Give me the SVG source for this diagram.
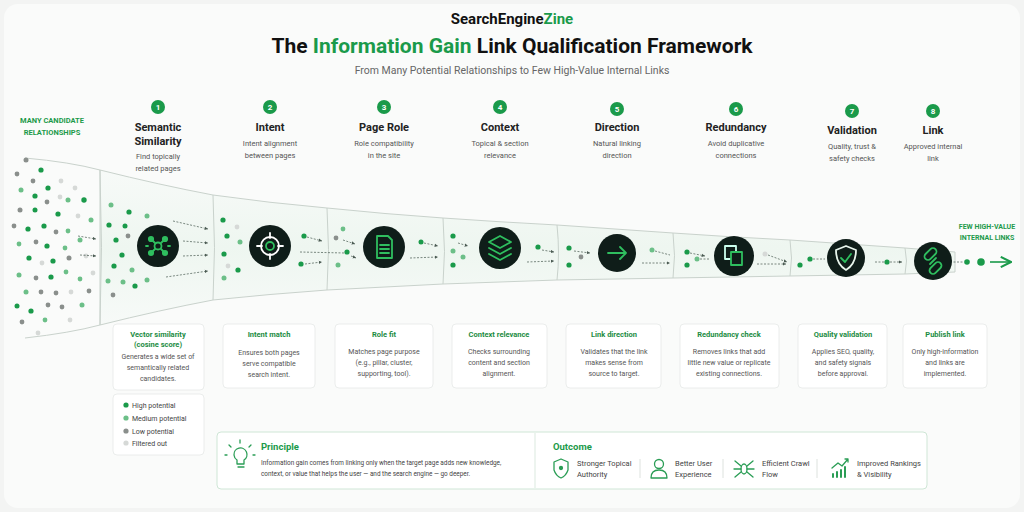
<svg xmlns="http://www.w3.org/2000/svg" width="1024" height="512" viewBox="0 0 1024 512">
<defs>
<style>
text{font-family:Roboto,"Liberation Sans",sans-serif}
.num{fill:#fff;font-size:8px;font-weight:700;text-anchor:middle}
.st{fill:#222;font-size:11px;font-weight:700;text-anchor:middle}
.sd{fill:#555;font-size:7.5px;text-anchor:middle}
.ct{fill:#1c8c43;font-size:7.5px;font-weight:700;text-anchor:middle}
.cd{fill:#555;font-size:7px;text-anchor:middle}
.card{fill:#fff;stroke:#e6e9e7;stroke-width:0.8}
.ic{fill:#0f1d19}
.ig{fill:none;stroke:#2fbf5f;stroke-width:1.8;stroke-linecap:round;stroke-linejoin:round}
.hi{fill:#1a9a4a}.me{fill:#6cbf88}.lo{fill:#8a8f8c}.fo{fill:#d6d9d7}
.dash{stroke:#5a6b62;stroke-width:0.8;stroke-dasharray:2 1.5;fill:none}
.div{stroke:#c9d2cc;stroke-width:1;fill:none}
.og{fill:none;stroke:#2a9d55;stroke-width:1.3;stroke-linejoin:round;stroke-linecap:round}
.ot{fill:#444;font-size:7.5px}
.lg{fill:#444;font-size:7px}
.pt{fill:#444;font-size:6.4px}
</style>
<marker id="ah" viewBox="0 0 6 6" refX="5" refY="3" markerWidth="5" markerHeight="5" orient="auto"><path d="M0,0.5 L5,3 L0,5.5 Z" fill="#4a5a52"/></marker>
<marker id="ahg" viewBox="0 0 10 10" refX="9" refY="5" markerWidth="8" markerHeight="8" orient="auto"><path d="M1,1 L9,5 L1,9" fill="none" stroke="#1a9a4a" stroke-width="1.6"/></marker>
<linearGradient id="fg" x1="0" y1="0" x2="0" y2="1"><stop offset="0" stop-color="#f7faf8"/><stop offset="0.5" stop-color="#eef6f0"/><stop offset="1" stop-color="#f7faf8"/></linearGradient>
</defs>
<rect width="1024" height="512" fill="#f3f4f3"/>
<rect x="4" y="4" width="1016" height="504" rx="14" fill="#fafbfa"/>

<g id="header">
<text x="512" y="24" text-anchor="middle" font-size="15" font-weight="700" fill="#111">SearchEngine<tspan fill="#1a9a4a">Zine</tspan></text>
<text x="512" y="53" text-anchor="middle" font-size="21" font-weight="700" fill="#111">The <tspan fill="#1a9a4a">Information Gain</tspan> Link Qualification Framework</text>
<text x="512" y="74" text-anchor="middle" font-size="10.5" fill="#666">From Many Potential Relationships to Few High-Value Internal Links</text>
</g>

<g id="funnel">
<path d="M100,170 Q160,185 213,195 Q270,203 327,208 Q385,214 443,218 Q500,222 557,225 Q615,229 673,233 Q730,237 790,240 Q848,244 905,248 L955,252 L955,272 L905,274 Q848,275 790,276 Q730,277 673,278 Q615,279 557,280 Q500,282 443,284 Q385,287 327,290 Q270,294 213,300 Q160,310 100,325 Z" fill="url(#fg)" stroke="#c9d2cc" stroke-width="1"/>
<path d="M25,158 Q70,162 100,170" class="div"/>
<path d="M25,338 Q70,333 100,325" class="div"/>
<path d="M100,170 Q103,248 100,325" class="div"/>
<path d="M213,195 Q216,248 213,300" class="div"/>
<path d="M327,208 Q330,250 327,290" class="div"/>
<path d="M443,218 Q446,252 443,284" class="div"/>
<path d="M557,225 Q560,254 557,280" class="div"/>
<path d="M673,233 Q676,256 673,278" class="div"/>
<path d="M790,240 Q793,258 790,276" class="div"/>
<path d="M905,248 Q908,261 905,274" class="div"/>
</g>

<g id="candidates">
<text x="52" y="123" text-anchor="middle" font-size="7.5" font-weight="700" fill="#1c9a4a">MANY CANDIDATE</text>
<text x="52" y="135" text-anchor="middle" font-size="7.5" font-weight="700" fill="#1c9a4a">RELATIONSHIPS</text>
<g>
<circle cx="26" cy="160" r="2.5" class="lo"/><circle cx="41" cy="170" r="2.6" class="hi"/><circle cx="17" cy="174" r="2.4" class="lo"/>
<circle cx="33" cy="181" r="2.4" class="lo"/><circle cx="61" cy="181" r="2.4" class="fo"/><circle cx="48" cy="188" r="2.6" class="hi"/>
<circle cx="75" cy="188" r="2.4" class="fo"/><circle cx="21" cy="190" r="2.5" class="me"/><circle cx="35" cy="196" r="2.6" class="hi"/>
<circle cx="60" cy="197" r="2.4" class="fo"/><circle cx="68" cy="200" r="2.5" class="me"/><circle cx="84" cy="200" r="2.7" class="hi"/>
<circle cx="47" cy="202" r="2.4" class="lo"/><circle cx="20" cy="210" r="2.5" class="lo"/>
<circle cx="35" cy="210" r="2.5" class="hi"/><circle cx="58" cy="214" r="2.6" class="hi"/><circle cx="78" cy="216" r="2.4" class="fo"/>
<circle cx="91" cy="220" r="2.5" class="me"/><circle cx="14" cy="226" r="2.4" class="lo"/><circle cx="28" cy="229" r="2.6" class="hi"/>
<circle cx="44" cy="226" r="2.6" class="hi"/><circle cx="56" cy="232" r="2.4" class="lo"/><circle cx="68" cy="231" r="2.4" class="me"/>
<circle cx="80" cy="240" r="2.5" class="me"/><circle cx="19" cy="244" r="2.4" class="me"/><circle cx="36" cy="242" r="2.4" class="lo"/>
<circle cx="47" cy="246" r="2.6" class="hi"/><circle cx="65" cy="248" r="2.4" class="me"/><circle cx="29" cy="258" r="2.6" class="hi"/>
<circle cx="42" cy="263" r="2.4" class="fo"/><circle cx="53" cy="261" r="2.6" class="hi"/><circle cx="69" cy="258" r="2.5" class="lo"/>
<circle cx="86" cy="256" r="2.4" class="fo"/><circle cx="19" cy="275" r="2.5" class="me"/><circle cx="36" cy="278" r="2.4" class="lo"/>
<circle cx="51" cy="277" r="2.6" class="hi"/><circle cx="66" cy="272" r="2.4" class="me"/><circle cx="80" cy="279" r="2.4" class="me"/>
<circle cx="93" cy="273" r="2.4" class="fo"/><circle cx="26" cy="292" r="2.5" class="me"/><circle cx="41" cy="292" r="2.4" class="lo"/>
<circle cx="56" cy="293" r="2.4" class="lo"/><circle cx="71" cy="292" r="2.4" class="fo"/><circle cx="89" cy="291" r="2.4" class="lo"/>
<circle cx="17" cy="306" r="2.5" class="hi"/><circle cx="31" cy="311" r="2.6" class="hi"/><circle cx="48" cy="305" r="2.4" class="lo"/>
<circle cx="62" cy="307" r="2.4" class="lo"/><circle cx="82" cy="305" r="2.5" class="me"/><circle cx="22" cy="322" r="2.4" class="lo"/>
<circle cx="45" cy="320" r="2.4" class="me"/><circle cx="70" cy="320" r="2.4" class="fo"/><circle cx="38" cy="333" r="2.4" class="fo"/>
</g>
</g>

<g id="inner-dots">
<circle cx="111" cy="205" r="2.5" class="me"/><circle cx="129" cy="212" r="2.6" class="hi"/><circle cx="147" cy="216" r="2.5" class="me"/>
<circle cx="109" cy="225" r="2.6" class="hi"/><circle cx="125" cy="226" r="2.5" class="hi"/><circle cx="128" cy="236" r="2.4" class="lo"/>
<circle cx="116" cy="240" r="2.6" class="hi"/><circle cx="122" cy="255" r="2.6" class="hi"/><circle cx="114" cy="266" r="2.6" class="hi"/>
<circle cx="132" cy="270" r="2.5" class="me"/><circle cx="108" cy="281" r="2.5" class="me"/><circle cx="123" cy="282" r="2.5" class="me"/>
<circle cx="135" cy="286" r="2.6" class="hi"/><circle cx="113" cy="295" r="2.4" class="lo"/><circle cx="147" cy="280" r="2.5" class="me"/>
<circle cx="223" cy="220" r="2.6" class="hi"/><circle cx="237" cy="227" r="2.4" class="fo"/><circle cx="227" cy="236" r="2.6" class="hi"/>
<circle cx="240" cy="242" r="2.5" class="me"/><circle cx="224" cy="254" r="2.6" class="hi"/><circle cx="228" cy="266" r="2.4" class="fo"/>
<circle cx="238" cy="270" r="2.6" class="hi"/><circle cx="224" cy="278" r="2.5" class="me"/>
<circle cx="304" cy="236" r="2.6" class="hi"/><circle cx="301" cy="264" r="2.6" class="hi"/>
<circle cx="343" cy="229" r="2.4" class="me"/><circle cx="336" cy="238" r="2.4" class="lo"/><circle cx="347" cy="252" r="2.6" class="hi"/>
<circle cx="338" cy="265" r="2.5" class="me"/><circle cx="421" cy="242" r="2.5" class="hi"/>
<circle cx="453" cy="236" r="2.6" class="hi"/><circle cx="453" cy="251" r="2.5" class="me"/><circle cx="463" cy="257" r="2.5" class="me"/><circle cx="453" cy="265" r="2.6" class="hi"/>
<circle cx="538" cy="247" r="2.6" class="hi"/><circle cx="569" cy="248" r="2.6" class="hi"/><circle cx="581" cy="257" r="2.4" class="lo"/><circle cx="569" cy="265" r="2.6" class="hi"/>
<circle cx="652" cy="250" r="2.5" class="me"/><circle cx="687" cy="252" r="2.6" class="hi"/><circle cx="697" cy="259" r="2.5" class="me"/><circle cx="687" cy="265" r="2.6" class="hi"/>
<circle cx="765" cy="254" r="2.5" class="fo"/><circle cx="800" cy="265" r="2.6" class="hi"/><circle cx="810" cy="259" r="2.6" class="hi"/>
<circle cx="887" cy="262" r="2.6" class="hi"/>
<circle cx="967" cy="262" r="2.8" class="hi"/><circle cx="981" cy="262" r="3.8" class="hi"/>
</g>

<g id="connectors">
<path d="M78,236 L96,239" class="dash" marker-end="url(#ah)"/>
<path d="M80,255 L96,256" class="dash" marker-end="url(#ah)"/>
<path d="M173,221 L208,229" class="dash" marker-end="url(#ah)"/>
<path d="M183,241 L208,243" class="dash" marker-end="url(#ah)"/>
<path d="M183,256 L208,255" class="dash" marker-end="url(#ah)"/>
<path d="M166,277 L208,271" class="dash" marker-end="url(#ah)"/>
<path d="M307,237 L322,241" class="dash" marker-end="url(#ah)"/>
<path d="M305,264 L322,262" class="dash" marker-end="url(#ah)"/>
<path d="M300,252 L345,253" class="dash"/>
<path d="M343,240 L355,244" class="dash" marker-end="url(#ah)"/>
<path d="M351,256 L356,258" class="dash" marker-end="url(#ah)"/>
<path d="M424,243 L438,246" class="dash" marker-end="url(#ah)"/>
<path d="M410,258 L438,257" class="dash" marker-end="url(#ah)"/>
<path d="M458,243 L468,246" class="dash" marker-end="url(#ah)"/>
<path d="M542,250 L554,252" class="dash" marker-end="url(#ah)"/>
<path d="M527,262 L554,261" class="dash" marker-end="url(#ah)"/>
<path d="M574,251 L590,253" class="dash" marker-end="url(#ah)"/>
<path d="M655,251 L670,255" class="dash"/>
<path d="M642,263 L670,263" class="dash" marker-end="url(#ah)"/>
<path d="M690,253 L705,256" class="dash" marker-end="url(#ah)"/>
<path d="M700,259 L710,259" class="dash"/>
<path d="M757,264 L786,264" class="dash" marker-end="url(#ah)"/>
<path d="M768,255 L787,262" class="dash" marker-end="url(#ah)"/>
<path d="M813,259 L825,259" class="dash"/>
<path d="M875,262 L884,262" class="dash"/>
<path d="M890,262 L902,262" class="dash" marker-end="url(#ah)"/>
<path d="M950,262 L964,262" class="dash"/>
<path d="M990,262 L1011,262" stroke="#1a9a4a" stroke-width="1.6" marker-end="url(#ahg)"/>
</g>

<g id="end-label">
<text x="987" y="229" text-anchor="middle" font-size="7" font-weight="700" fill="#1c9a4a">FEW HIGH-VALUE</text>
<text x="987" y="240" text-anchor="middle" font-size="7" font-weight="700" fill="#1c9a4a">INTERNAL LINKS</text>
</g>

<g id="step1">
<circle cx="158" cy="107" r="7" fill="#1a9a4a"/><text x="158" y="110" class="num">1</text>
<text x="158" y="131" class="st">Semantic</text><text x="158" y="145" class="st">Similarity</text>
<text x="158" y="159" class="sd">Find topically</text><text x="158" y="171" class="sd">related pages</text>
<circle cx="158" cy="246" r="21" class="ic"/>
<g class="ig"><path d="M151,239 L165,253 M165,239 L151,253"/><circle cx="158" cy="246" r="3.5" fill="#0f1d19"/><circle cx="151" cy="239" r="2.2" fill="#2fbf5f"/><circle cx="165" cy="239" r="2.2" fill="#2fbf5f"/><circle cx="151" cy="253" r="2.2" fill="#2fbf5f"/><circle cx="165" cy="253" r="2.2" fill="#2fbf5f"/><path d="M146,246 L148,246 M168,246 L170,246"/></g>
</g>
<g id="step2">
<circle cx="270" cy="107" r="7" fill="#1a9a4a"/><text x="270" y="110" class="num">2</text>
<text x="270" y="131" class="st">Intent</text>
<text x="270" y="146" class="sd">Intent alignment</text><text x="270" y="158" class="sd">between pages</text>
<circle cx="270" cy="246" r="21" class="ic"/>
<g class="ig"><circle cx="270" cy="246" r="9" stroke="#fff"/><circle cx="270" cy="246" r="4"/><path d="M270,233 L270,238 M270,254 L270,259 M257,246 L262,246 M278,246 L283,246" stroke="#fff"/></g>
</g>
<g id="step3">
<circle cx="384" cy="107" r="7" fill="#1a9a4a"/><text x="384" y="110" class="num">3</text>
<text x="384" y="131" class="st">Page Role</text>
<text x="384" y="146" class="sd">Role compatibility</text><text x="384" y="158" class="sd">in the site</text>
<circle cx="384" cy="247" r="21" class="ic"/>
<g class="ig" stroke="#fff"><path d="M377,236 L388,236 L392,240 L392,258 L377,258 Z"/><path d="M380,245 L389,245 M380,249 L389,249 M380,253 L389,253" stroke="#2fbf5f"/></g>
</g>
<g id="step4">
<circle cx="500" cy="107" r="7" fill="#1a9a4a"/><text x="500" y="110" class="num">4</text>
<text x="500" y="131" class="st">Context</text>
<text x="500" y="146" class="sd">Topical &amp; section</text><text x="500" y="158" class="sd">relevance</text>
<circle cx="500" cy="248" r="21" class="ic"/>
<g class="ig"><path d="M489,242 L500,236 L511,242 L500,248 Z"/><path d="M489,248 L500,254 L511,248"/><path d="M489,254 L500,260 L511,254"/></g>
</g>
<g id="step5">
<circle cx="617" cy="109" r="7" fill="#1a9a4a"/><text x="617" y="112" class="num">5</text>
<text x="617" y="131" class="st">Direction</text>
<text x="617" y="146" class="sd">Natural linking</text><text x="617" y="158" class="sd">direction</text>
<circle cx="617" cy="253" r="19" class="ic"/>
<g class="ig"><path d="M608,253 L626,253 M620,247 L626,253 L620,259"/></g>
</g>
<g id="step6">
<circle cx="736" cy="109" r="7" fill="#1a9a4a"/><text x="736" y="112" class="num">6</text>
<text x="736" y="131" class="st">Redundancy</text>
<text x="736" y="146" class="sd">Avoid duplicative</text><text x="736" y="158" class="sd">connections</text>
<circle cx="734" cy="256" r="20" class="ic"/>
<g class="ig"><rect x="725" y="246" width="11" height="13" stroke="#cfe"/><rect x="731" y="252" width="11" height="13" fill="#0f1d19"/></g>
</g>
<g id="step7">
<circle cx="852" cy="111" r="7" fill="#1a9a4a"/><text x="852" y="114" class="num">7</text>
<text x="852" y="134" class="st">Validation</text>
<text x="852" y="149" class="sd">Quality, trust &amp;</text><text x="852" y="161" class="sd">safety checks</text>
<circle cx="846" cy="258" r="19" class="ic"/>
<g class="ig"><path d="M846,246 L856,250 Q856,264 846,270 Q836,264 836,250 Z" stroke="#e8f5ec"/><path d="M841,258 L845,262 L851,254"/></g>
</g>
<g id="step8">
<circle cx="933" cy="111" r="7" fill="#1a9a4a"/><text x="933" y="114" class="num">8</text>
<text x="933" y="134" class="st">Link</text>
<text x="933" y="149" class="sd">Approved internal</text><text x="933" y="161" class="sd">link</text>
<circle cx="933" cy="261" r="19" class="ic"/>
<g class="ig"><rect x="927" y="247" width="7" height="14" rx="3.5" transform="rotate(45 930.5 254)"/><rect x="932" y="261" width="7" height="14" rx="3.5" transform="rotate(45 935.5 268)"/><path d="M930,264 L936,258"/></g>
</g>

<g id="cards">
<rect x="113" y="324" width="91" height="66" rx="4" class="card"/>
<text x="158" y="337" class="ct">Vector similarity</text><text x="158" y="347" class="ct">(cosine score)</text>
<text x="158" y="359" class="cd">Generates a wide set of</text><text x="158" y="370" class="cd">semantically related</text><text x="158" y="381" class="cd">candidates.</text>
<rect x="223" y="324" width="92" height="64" rx="4" class="card"/>
<text x="269" y="337" class="ct">Intent match</text>
<text x="269" y="355" class="cd">Ensures both pages</text><text x="269" y="366" class="cd">serve compatible</text><text x="269" y="377" class="cd">search intent.</text>
<rect x="335" y="324" width="98" height="64" rx="4" class="card"/>
<text x="384" y="337" class="ct">Role fit</text>
<text x="384" y="354" class="cd">Matches page purpose</text><text x="384" y="365" class="cd">(e.g., pillar, cluster,</text><text x="384" y="376" class="cd">supporting, tool).</text>
<rect x="452" y="324" width="95" height="64" rx="4" class="card"/>
<text x="499" y="337" class="ct">Context relevance</text>
<text x="499" y="354" class="cd">Checks surrounding</text><text x="499" y="365" class="cd">content and section</text><text x="499" y="376" class="cd">alignment.</text>
<rect x="566" y="324" width="95" height="64" rx="4" class="card"/>
<text x="614" y="337" class="ct">Link direction</text>
<text x="614" y="354" class="cd">Validates that the link</text><text x="614" y="365" class="cd">makes sense from</text><text x="614" y="376" class="cd">source to target.</text>
<rect x="680" y="324" width="99" height="64" rx="4" class="card"/>
<text x="729" y="337" class="ct">Redundancy check</text>
<text x="729" y="354" class="cd">Removes links that add</text><text x="729" y="365" class="cd">little new value or replicate</text><text x="729" y="376" class="cd">existing connections.</text>
<rect x="798" y="324" width="89" height="64" rx="4" class="card"/>
<text x="843" y="337" class="ct">Quality validation</text>
<text x="843" y="354" class="cd">Applies SEO, quality,</text><text x="843" y="365" class="cd">and safety signals</text><text x="843" y="376" class="cd">before approval.</text>
<rect x="903" y="324" width="84" height="64" rx="4" class="card"/>
<text x="945" y="337" class="ct">Publish link</text>
<text x="945" y="354" class="cd">Only high-information</text><text x="945" y="365" class="cd">and links are</text><text x="945" y="376" class="cd">implemented.</text>
</g>

<g id="legend">
<rect x="113" y="394" width="91" height="61" rx="4" class="card"/>
<circle cx="126" cy="405" r="2.6" class="hi"/><text x="132" y="408" class="lg">High potential</text>
<circle cx="126" cy="418" r="2.6" class="me"/><text x="132" y="421" class="lg">Medium potential</text>
<circle cx="126" cy="431" r="2.6" class="lo"/><text x="132" y="434" class="lg">Low potential</text>
<circle cx="126" cy="443" r="2.6" class="fo"/><text x="132" y="446" class="lg">Filtered out</text>
</g>

<g id="principle">
<rect x="217" y="432" width="710" height="57" rx="4" fill="#fff" stroke="#cfe6d6" stroke-width="1"/>
<line x1="535" y1="433" x2="535" y2="488" stroke="#dbe9df"/>
<g class="og"><path d="M234,455 a6.5,6.5 0 1 1 10,5 l0,4 l-7,0 l0,-4 a6.5,6.5 0 0 1 -3,-5 Z"/><path d="M238,467 L244,467"/><path d="M240,443 L240,440 M231,447 L229,445 M249,447 L251,445 M227,455 L225,455 M253,455 L255,455"/></g>
<text x="261" y="450" font-size="9.5" font-weight="700" fill="#1c9a4a">Principle</text>
<text x="261" y="465" class="pt">Information gain comes from linking only when the target page adds new knowledge,</text>
<text x="261" y="476" class="pt">context, or value that helps the user — and the search engine — go deeper.</text>
</g>
<g id="outcome">
<text x="553" y="450" font-size="9.5" font-weight="700" fill="#1c9a4a">Outcome</text>
<g class="og"><path d="M561,459 L568,462 L568,470 Q566,476 561,478 Q556,476 554,470 L554,462 Z"/><circle cx="561" cy="468" r="1.5" fill="#2a9d55"/></g>
<text x="577" y="466" class="ot">Stronger Topical</text><text x="577" y="477" class="ot">Authority</text>
<line x1="640" y1="459" x2="640" y2="478" stroke="#dde2de"/>
<g class="og"><circle cx="659" cy="464" r="4.5"/><path d="M651,478 Q651,470 659,470 Q667,470 667,478 Z"/></g>
<text x="675" y="466" class="ot">Better User</text><text x="675" y="477" class="ot">Experience</text>
<line x1="723" y1="459" x2="723" y2="478" stroke="#dde2de"/>
<g class="og"><ellipse cx="744" cy="469" rx="3" ry="5"/><path d="M735,461 L741,466 M753,461 L747,466 M734,469 L741,469 M754,469 L747,469 M735,477 L741,472 M753,477 L747,472"/></g>
<text x="762" y="466" class="ot">Efficient Crawl</text><text x="762" y="477" class="ot">Flow</text>
<line x1="817" y1="459" x2="817" y2="478" stroke="#dde2de"/>
<g class="og"><path d="M832,468 L838,463 L842,466 L848,459 M845,459 L848,459 L848,462"/><path d="M833,477 L833,474 M837,477 L837,472 M841,477 L841,470 M845,477 L845,467" stroke-width="2"/></g>
<text x="857" y="466" class="ot">Improved Rankings</text><text x="857" y="477" class="ot">&amp; Visibility</text>
</g>
</svg>
